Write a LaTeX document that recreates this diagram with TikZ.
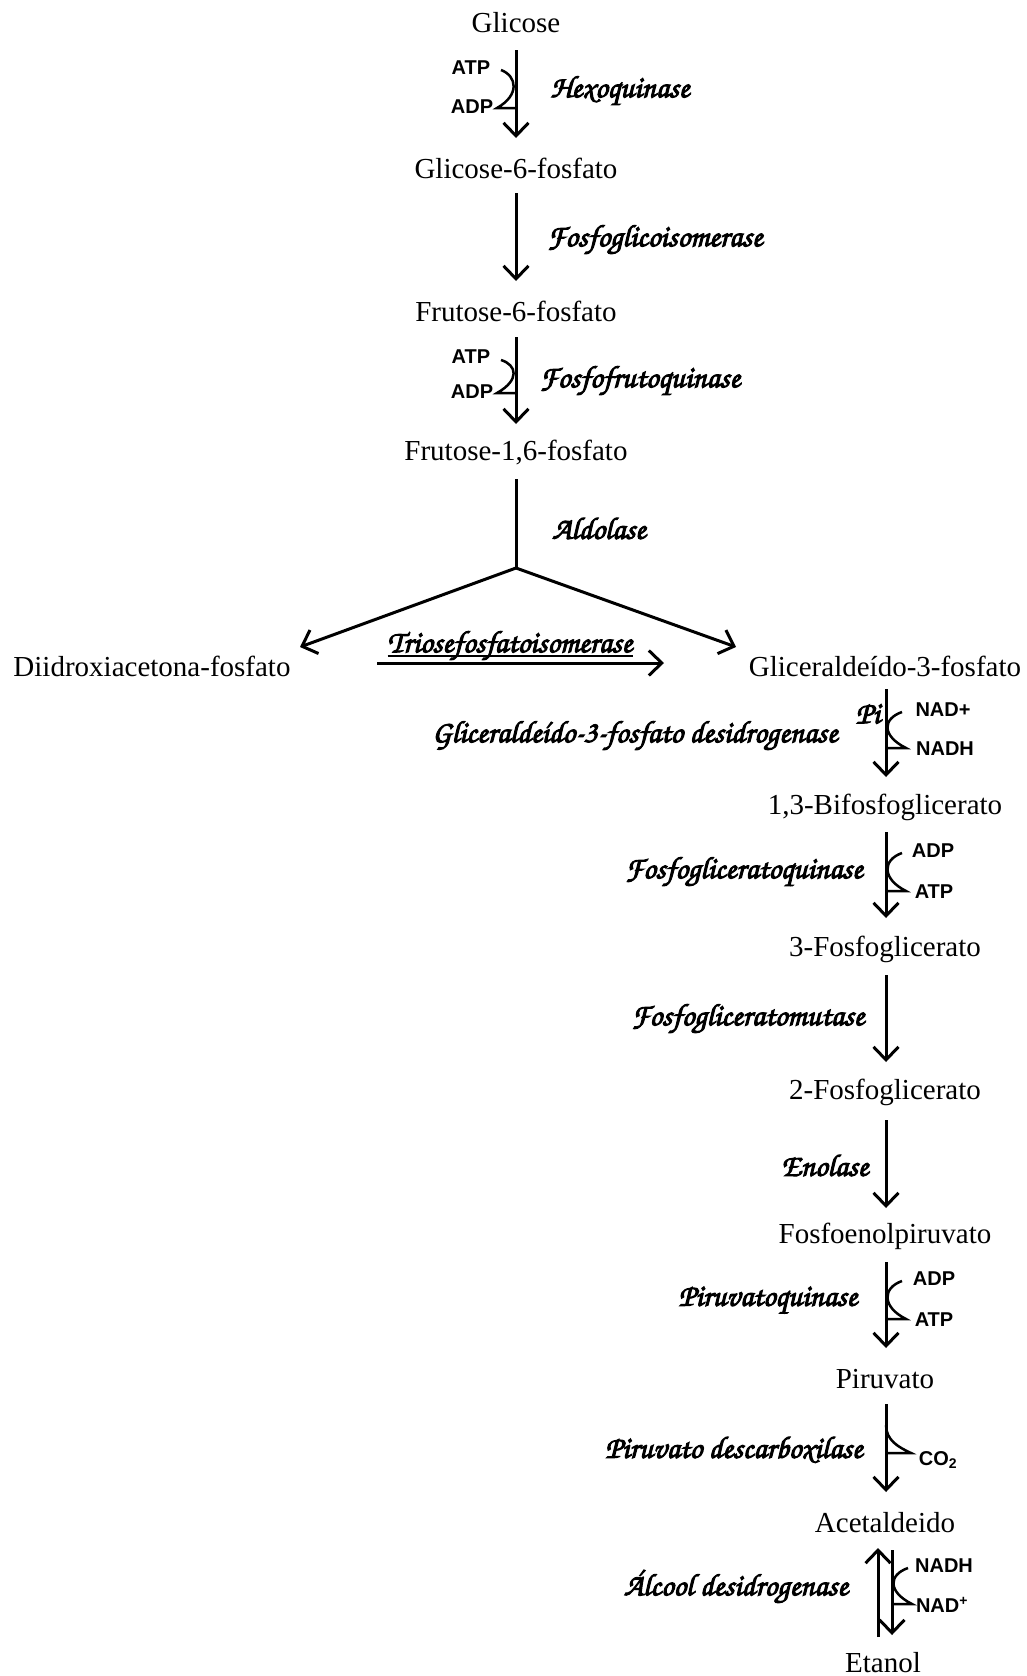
\documentclass[tikz,border=0pt]{standalone}
\usepackage{fontspec}
\setmainfont{Liberation Serif}
\newfontfamily\labfont{Liberation Sans}
\usetikzlibrary{arrows.meta,calc}
\newcommand\scrfont{\fontencoding{T1}\fontfamily{pzc}\fontseries{mb}\fontshape{it}\fontsize{31}{34}\selectfont\special{pdf:literal direct 2 Tr 1.0 w 0 G}}
\begin{document}
\begin{tikzpicture}[x=1pt,y=-1pt,
  met/.style={font=\fontsize{29}{34}\selectfont, inner sep=0pt, anchor=center},
  cof/.style={font=\labfont\bfseries\fontsize{20}{23}\selectfont, inner sep=0pt},
  enz/.style={font=\scrfont, inner sep=0pt, execute at end node={\special{pdf:literal direct 0 Tr}}},
  arr/.style={line width=3pt, -{Straight Barb[length=13pt,width=25pt]}},
  plain/.style={line width=3pt},
  cur/.style={line width=2.5pt, line join=miter}]
\useasboundingbox (0,0) rectangle (1027,1676);
% metabolites
\node[met] (glc)  at (516,23)   {Glicose};
\node[met] (g6p)  at (516,168)  {Glicose-6-fosfato};
\node[met] (f6p)  at (516,311)  {Frutose-6-fosfato};
\node[met] (f16p) at (516,453)  {Frutose-1,6-fosfato};
\node[met] (dhap) at (152,666)  {Diidroxiacetona-fosfato};
\node[met] (gap)  at (885,666)  {Gliceralde\'ido-3-fosfato};
\node[met] (bpg)  at (885,807)  {1,3-Bifosfoglicerato};
\node[met] (pgt)  at (885,949)  {3-Fosfoglicerato};
\node[met] (pgd)  at (885,1092) {2-Fosfoglicerato};
\node[met] (pep)  at (885,1236) {Fosfoenolpiruvato};
\node[met] (pyr)  at (885,1379) {Piruvato};
\node[met] (acet) at (885,1523) {Acetaldeido};
\node[met] (eth)  at (883,1663) {Etanol};
% cofactors
\node[cof] (atpa) at (471,68)   {ATP};
\node[cof] (adpa) at (472,107)  {ADP};
\node[cof] (atpb) at (471,357)  {ATP};
\node[cof] (adpb) at (472,392)  {ADP};
\node[cof] (nadpa) at (943,710) {NAD+};
\node[cof] (nadha) at (945,749) {NADH};
\node[cof] (adpc) at (933,851)  {ADP};
\node[cof] (atpc) at (934,892)  {ATP};
\node[cof] (adpd) at (934,1279) {ADP};
\node[cof] (atpd) at (934,1320) {ATP};
\node[cof] (co2)  at (938,1460) {CO\textsubscript{2}};
\node[cof] (nadhb) at (944,1566) {NADH};
\node[cof] (nadpb) at (942,1605) {NAD\textsuperscript{+}};
% enzymes
\node[enz] (hk)   at (620,91)   {Hexoquinase};
\node[enz] (pgi)  at (655,240)  {Fosfoglicoisomerase};
\node[enz] (pfk)  at (640,381)  {Fosfofrutoquinase};
\node[enz] (ald)  at (599,528)  {Aldolase};
\node[enz] (tpi)  at (510,646)  {Triosefosfatoisomerase};
\node[enz] (gapdh) at (635,736) {Gliceralde\'ido-3-fosfato desidrogenase};
\node[enz] (pgk)  at (744,872)  {Fosfogliceratoquinase};
\node[enz] (pgm)  at (748,1019) {Fosfogliceratomutase};
\node[enz] (eno)  at (825,1165) {Enolase};
\node[enz] (pk)   at (768,1301) {Piruvatoquinase};
\node[enz] (pdc)  at (734,1450) {Piruvato descarboxilase};
\node[enz] (adh)  at (736,1587) {\'Alcool desidrogenase};
\node[enz] (pi)   at (868,714)  {Pi};
% main arrows
\draw[arr] ($(glc)+(0,27)$) -- ($(g6p)+(0,-30)$);
\draw[arr] ($(g6p)+(0,25)$) -- ($(f6p)+(0,-30)$);
\draw[arr] ($(f6p)+(0,26)$) -- ($(f16p)+(0,-29)$);
\coordinate (split) at (516,568);
\draw[plain] ($(f16p)+(0,26)$) -- (split);
\draw[arr] (split) -- ($(dhap)+(148,-19)$);
\draw[arr] (split) -- ($(gap)+(-149,-19)$);
\draw[arr] ($(dhap)+(225,-3)$) -- ($(gap)+(-221,-3)$);
\draw[line width=1.6pt] ($(tpi.base west)+(0,4)$) -- ($(tpi.base east)+(0,4)$);
\draw[arr] ($(gap)+(1,23)$) -- ($(bpg)+(1,-30)$);
\draw[arr] ($(bpg)+(1,25)$) -- ($(pgt)+(1,-31)$);
\draw[arr] ($(pgt)+(1,26)$) -- ($(pgd)+(1,-30)$);
\draw[arr] ($(pgd)+(1,28)$) -- ($(pep)+(1,-28)$);
\draw[arr] ($(pep)+(1,26)$) -- ($(pyr)+(1,-31)$);
\draw[arr] ($(pyr)+(1,25)$) -- ($(acet)+(1,-31)$);
\draw[arr] ($(acet)+(7,27)$) -- ($(eth)+(9,-28)$);
\draw[arr] ($(eth)+(-5,-26)$) -- ($(acet)+(-7,25)$);
% cofactor curves
\draw[cur] ($(atpa)+(30,2)$) .. controls ($(atpa)+(46,8)$) and ($(adpa)+(48,-12)$) .. ($(adpa)+(25,1)$) -- ($(adpa)+(44,1)$);
\draw[cur] ($(atpb)+(30,3)$) .. controls ($(atpb)+(46,8)$) and ($(adpb)+(48,-12)$) .. ($(adpb)+(25,1)$) -- ($(adpb)+(44,1)$);
\draw[cur] ($(nadpa)+(-41,2)$) .. controls ($(nadpa)+(-61,9)$) and ($(nadha)+(-63,-13)$) .. ($(nadha)+(-39,-1)$) -- ($(nadha)+(-58,-1)$);
\draw[cur] ($(adpc)+(-31,2)$) .. controls ($(adpc)+(-51,9)$) and ($(atpc)+(-52,-13)$) .. ($(atpc)+(-28,-1)$) -- ($(atpc)+(-47,-1)$);
\draw[cur] ($(adpd)+(-32,2)$) .. controls ($(adpd)+(-52,9)$) and ($(atpd)+(-52,-13)$) .. ($(atpd)+(-28,-1)$) -- ($(atpd)+(-47,-1)$);
\draw[cur] ($(co2)+(-52,-35)$) .. controls ($(co2)+(-52,-20)$) and ($(co2)+(-40,-13)$) .. ($(co2)+(-27,-7)$) -- ($(co2)+(-51,-7)$);
\draw[cur] ($(nadhb)+(-36,2)$) .. controls ($(nadhb)+(-56,9)$) and ($(nadpb)+(-54,-13)$) .. ($(nadpb)+(-30,-1)$) -- ($(nadpb)+(-49,-1)$);
\end{tikzpicture}
\end{document}
